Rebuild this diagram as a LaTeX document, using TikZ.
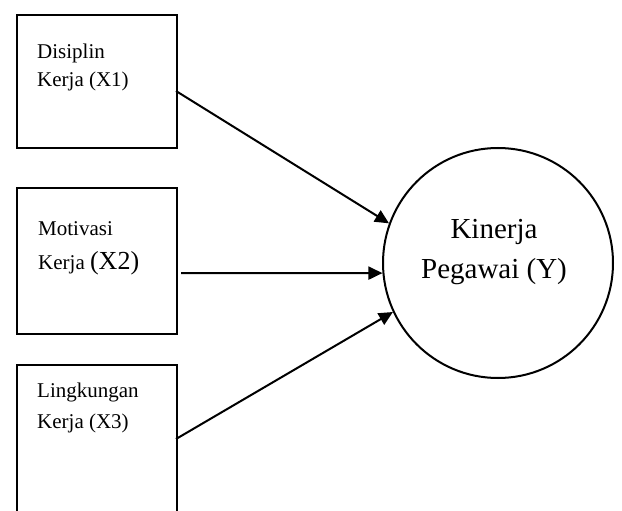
\documentclass[tikz,border=0pt]{standalone}
\usepackage{fontspec}
\setmainfont{Liberation Serif}
\usetikzlibrary{arrows.meta}
\begin{document}
\begin{tikzpicture}[x=1pt,y=-1pt,
  box/.style={draw, line width=2pt, rectangle, inner sep=0pt, anchor=north west, minimum width=160pt},
  lbl/.style={anchor=base west, inner sep=0pt, font=\fontsize{21}{25}\selectfont},
  big/.style={anchor=base, inner sep=0pt, font=\fontsize{29}{34}\selectfont},
  arr/.style={line width=2pt, -{Triangle[length=14pt,width=13pt]}}]
\useasboundingbox (0,0) rectangle (622,511);
\clip (0,0) rectangle (622,511);
\node[box, minimum height=133pt] (b1) at (16,14) {};
\node[box, minimum height=146pt] (b2) at (16,187) {};
\node[box, minimum height=200pt] (b3) at (16,364) {};
\node[lbl] (t1a) at (37,59) {Disiplin};
\node[lbl] (t1b) at (37,87) {Kerja (X1)};
\node[lbl] (t2a) at (38,235) {Motivasi};
\node[lbl] (t2b) at (38,269) {Kerja {\fontsize{26}{30}\selectfont(X2)}};
\node[lbl] (t3a) at (37,397) {Lingkungan};
\node[lbl] (t3b) at (37,428) {Kerja (X3)};
\node[circle, draw, line width=2pt, minimum size=230pt, inner sep=0pt] (Y) at (498,263) {};
\node[big] (ya) at (494,238) {Kinerja};
\node[big] (yb) at (494,278) {Pegawai (Y)};
\coordinate (s1) at (176,91);
\coordinate (s2) at (181,273);
\coordinate (s3) at (176,439);
\draw[arr] (s1) -- (Y.160);
\draw[arr] (s2) -- (Y.185);
\draw[arr] (s3) -- (Y.205);
\end{tikzpicture}
\end{document}
